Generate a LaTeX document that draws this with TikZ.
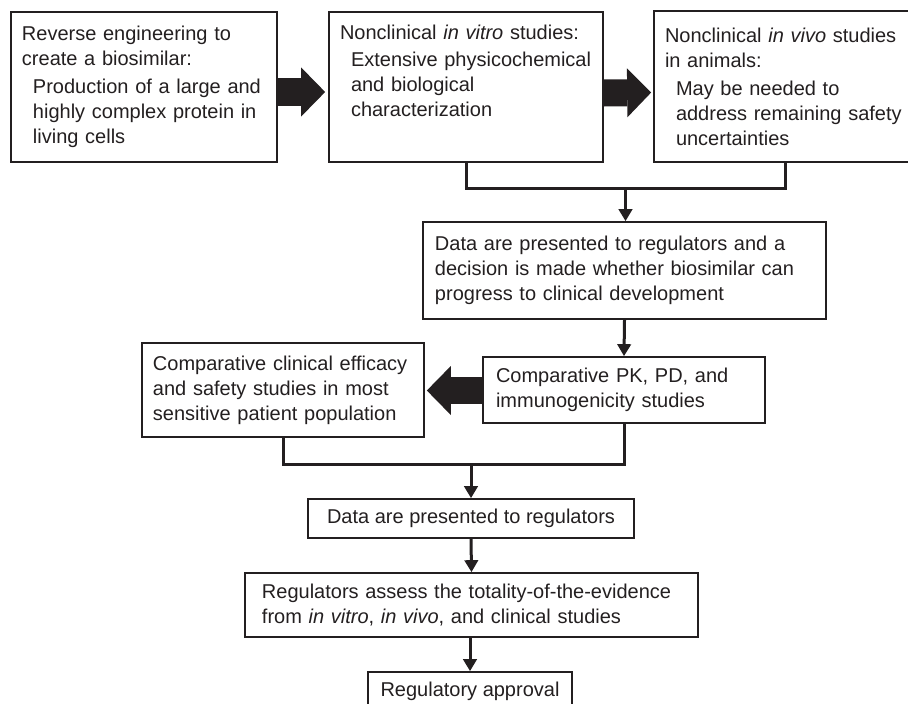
\documentclass[tikz,border=0pt]{standalone}
\usepackage{fontspec}
\setmainfont{Liberation Sans}
\usepackage{tikz}
\usetikzlibrary{arrows.meta,calc,positioning}
\usepackage{xcolor}
\definecolor{ink}{HTML}{231F20}
\newcommand{\ind}{\hspace*{0.33cm}}

\begin{document}
\begin{tikzpicture}[x=0.03cm, y=-0.03cm,
  box/.style={draw=ink, line width=0.05cm, text=ink, align=left, inner xsep=0.33cm,
    font=\fontsize{17.07pt}{21.34pt}\selectfont},
  link/.style={draw=ink, line width=0.09cm},
  flow/.style={link, -{Triangle[length=0.36cm, width=0.4cm]}},
  fat/.style={draw=ink, line width=0.81cm, -{Triangle[length=0.72cm, width=1.47cm, line width=0pt]}}]

\useasboundingbox (0,0) rectangle (908,703);
\clip (0,0) rectangle (908,703);

% Fase non clinica
\node[box, minimum width=7.98cm, minimum height=4.5cm, text width=7.32cm] (revEng) at (144,87)
  {Reverse engineering to\\create a biosimilar:\\[2.5pt]\ind Production of a large and\\\ind highly complex protein in\\\ind living cells};
\node[box, minimum width=8.22cm, minimum height=4.5cm, text width=7.56cm] (inVitro) at (466,87)
  {Nonclinical \textit{in vitro} studies:\\[2.5pt]\ind Extensive physicochemical\\\ind and biological\\\ind characterization\\\strut};
\node[box, minimum width=7.86cm, minimum height=4.53cm, text width=7.2cm] (inVivo) at (785,86.5)
  {Nonclinical \textit{in vivo} studies\\in animals:\\[2.5pt]\ind May be needed to\\\ind address remaining safety\\\ind uncertainties};
\node[box, minimum width=12.09cm, minimum height=2.91cm, inner xsep=0.36cm, text width=11.37cm] (decide) at (624.5,270.5)
  {Data are presented to regulators and a\\decision is made whether biosimilar can\\progress to clinical development};

% Fase clinica
\node[box, minimum width=8.46cm, minimum height=1.98cm, inner xsep=0.39cm, text width=7.68cm] (pkpd) at (624,390)
  {Comparative PK, PD, and\\immunogenicity studies};
\node[box, minimum width=8.46cm, minimum height=2.82cm, text width=7.8cm] (efficacy) at (283,390)
  {Comparative clinical efficacy\\and safety studies in most\\sensitive patient population};
\node[box, minimum width=9.78cm, minimum height=1.17cm, align=center] (dataReg) at (471,518.5)
  {Data are presented to regulators};
\node[box, minimum width=13.59cm, minimum height=1.92cm, inner xsep=0.51cm, text width=12.57cm] (assess) at (471.5,605)
  {Regulators assess the totality-of-the-evidence\\from \textit{in vitro}, \textit{in vivo}, and clinical studies};
\node[box, minimum width=6.12cm, minimum height=1.17cm, align=center] (approval) at (470,691.5)
  {Regulatory approval};

% Frecce larghe
\draw[fat] ($(revEng.east)+(0,5)$) -- ($(inVitro.west)+(-3,5)$);
\draw[fat] ($(inVitro.east)+(0,6)$) -- ($(inVivo.west)+(-2,6)$);
\draw[fat] ($(pkpd.west)+(0,0.5)$) -- ($(efficacy.east)+(2,0.5)$);

% Raccordi e frecce
\coordinate (topjoin) at ($(inVitro.south)!0.5!(inVivo.south)+(0,26)$);
\draw[link] (inVitro.south) |- (topjoin) -| (inVivo.south);
\draw[flow] (topjoin) -- (topjoin |- decide.north);
\draw[flow] (decide.south) -- (pkpd.north);

\coordinate (midjoin) at ($(dataReg.north)+(0,-34)$);
\draw[link] (efficacy.south) |- (midjoin) -| (pkpd.south);
\draw[flow] (midjoin) -- (dataReg.north);
\draw[flow] (dataReg.south) -- (assess.north);
\draw[flow] (approval.north |- assess.south) -- (approval.north);

\end{tikzpicture}
\end{document}
